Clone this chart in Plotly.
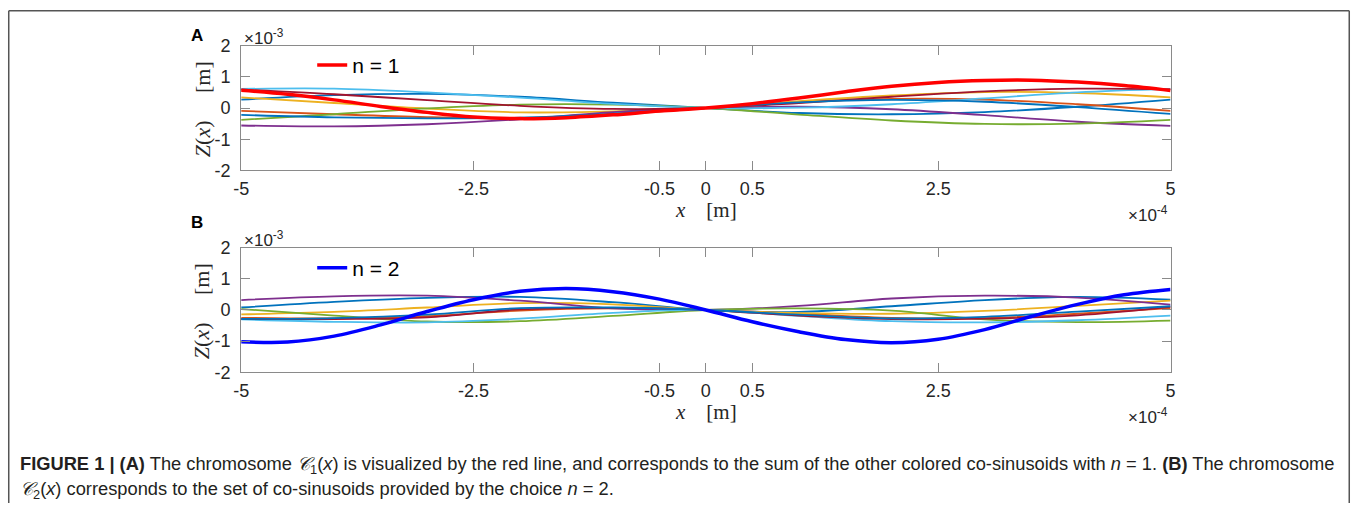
import plotly.graph_objects as go

# ---------------- data (x in units of 1e-4 m, Z in units of 1e-3 m) ----------------
x_thin = [-5, -4, -3, -2, -1, 0, 1, 2, 3, 4, 5]
x_fine = [-5, -4.5, -4, -3.5, -3, -2.5, -2, -1.5, -1, -0.5, 0,
          0.5, 1, 1.5, 2, 2.5, 3, 3.5, 4, 4.5, 5]

# Panel A (n = 1): thin co-sinusoids
a_blue1   = [0.27, 0.41, 0.45, 0.36, 0.17, 0.0, -0.16, -0.20, -0.13, 0.04, 0.27]
a_orange  = [-0.09, -0.20, -0.29, -0.32, -0.22, 0.0, 0.18, 0.29, 0.27, 0.12, -0.09]
a_yellow  = [0.34, 0.16, -0.02, -0.14, -0.11, 0.0, 0.22, 0.40, 0.51, 0.48, 0.34]
a_purple  = [-0.56, -0.59, -0.52, -0.36, -0.13, 0.0, 0.04, -0.04, -0.23, -0.44, -0.57]
a_green   = [-0.38, -0.20, -0.01, 0.11, 0.11, 0.0, -0.21, -0.40, -0.51, -0.50, -0.38]
a_cyan    = [0.61, 0.62, 0.50, 0.33, 0.13, 0.0, 0.01, 0.12, 0.31, 0.50, 0.61]
a_darkred = [0.59, 0.44, 0.25, 0.07, -0.03, 0.0, 0.16, 0.36, 0.53, 0.62, 0.60]
a_blue2   = [-0.22, -0.30, -0.33, -0.31, -0.18, 0.0, 0.18, 0.26, 0.20, 0.03, -0.19]
# Panel A chromosome (thick red)
a_chrom = [0.57, 0.44, 0.26, 0.05, -0.14, -0.29, -0.34, -0.31, -0.22, -0.10, 0.0,
           0.14, 0.32, 0.52, 0.70, 0.82, 0.88, 0.89, 0.83, 0.72, 0.56]

# Panel B (n = 2): thin co-sinusoids
b_blue1   = [0.08, 0.26, 0.39, 0.42, 0.25, 0.0, -0.06, 0.12, 0.32, 0.42, 0.33]
b_orange  = [-0.25, -0.27, -0.20, -0.02, 0.05, 0.0, -0.12, -0.25, -0.26, -0.12, 0.06]
b_yellow  = [-0.14, -0.06, 0.08, 0.22, 0.18, 0.0, -0.10, -0.12, -0.03, 0.13, 0.30]
b_purple  = [0.32, 0.44, 0.46, 0.30, 0.05, 0.0, 0.13, 0.37, 0.46, 0.40, 0.17]
b_green   = [0.03, -0.18, -0.37, -0.36, -0.19, 0.0, 0.05, -0.02, -0.30, -0.39, -0.34]
b_cyan    = [-0.30, -0.38, -0.40, -0.28, -0.09, 0.0, -0.19, -0.36, -0.40, -0.33, -0.18]
b_darkred = [-0.29, -0.29, -0.24, 0.02, 0.07, 0.0, -0.18, -0.29, -0.28, -0.17, 0.10]
b_blue2   = [-0.29, -0.26, -0.15, 0.06, 0.08, 0.0, -0.15, -0.27, -0.22, -0.05, 0.12]
# Panel B chromosome (thick blue)
b_chrom = [-1.02, -1.03, -0.84, -0.48, -0.05, 0.33, 0.60, 0.69, 0.59, 0.35, 0.0,
           -0.38, -0.70, -0.95, -1.05, -0.94, -0.63, -0.21, 0.18, 0.49, 0.66]

x_tickvals = [-5, -2.5, -0.5, 0, 0.5, 2.5, 5]
x_ticktext = ["-5", "-2.5", "-0.5", "0", "0.5", "2.5", "5"]
y_tickvals = [-2, -1, 0, 1, 2]
y_ticktext = ["-2", "-1", "0", "1", "2"]

matlab_colors = ["#0072BD", "#D95319", "#EDB120", "#7E2F8E", "#77AC30", "#4DBEEE", "#A2142F", "#0072BD"]
panel_a = [a_blue1, a_orange, a_yellow, a_purple, a_green, a_cyan, a_darkred, a_blue2]
panel_b = [b_blue1, b_orange, b_yellow, b_purple, b_green, b_cyan, b_darkred, b_blue2]

# Page geometry: the browser keeps an 8px body margin and the captured picture is
# slightly rescaled, so target picture positions are converted to figure pixels.
OFF = 8
SX, SY = 0.99, 0.962
W, H = 1355, 513


def px(x):
    return (x / SX - OFF) / W


def py(y):
    return 1 - (y / SY - OFF) / H


fig = go.Figure()

for ys, c in zip(panel_a, matlab_colors):
    fig.add_trace(go.Scatter(x=x_thin, y=ys, mode="lines", line=dict(color=c, width=1.8, shape="spline"),
                             showlegend=False, xaxis="x", yaxis="y", hoverinfo="skip"))
fig.add_trace(go.Scatter(x=x_fine, y=a_chrom, mode="lines", name="n = 1",
                         line=dict(color="#FF0000", width=3.5, shape="spline"),
                         showlegend=True, legend="legend", xaxis="x", yaxis="y"))

for ys, c in zip(panel_b, matlab_colors):
    fig.add_trace(go.Scatter(x=x_thin, y=ys, mode="lines", line=dict(color=c, width=1.8, shape="spline"),
                             showlegend=False, xaxis="x2", yaxis="y2", hoverinfo="skip"))
fig.add_trace(go.Scatter(x=x_fine, y=b_chrom, mode="lines", name="n = 2",
                         line=dict(color="#0000FF", width=3.5, shape="spline"),
                         showlegend=True, legend="legend2", xaxis="x2", yaxis="y2"))

sans = "Liberation Sans, Arial, sans-serif"
serif = "Liberation Serif, DejaVu Serif, serif"
tickfont = dict(family=sans, size=18, color="#262626")
axis_common = dict(showline=True, linecolor="#8a8a8a", linewidth=1, mirror="ticks",
                   ticks="inside", ticklen=9, tickcolor="#8a8a8a", tickwidth=1,
                   showgrid=False, zeroline=False, tickfont=tickfont)

xdom = [px(241), px(1170)]
legfont = dict(family=sans, size=21, color="#000")
fig.update_layout(
    width=W, height=H, margin=dict(l=0, r=0, t=0, b=0),
    paper_bgcolor="white", plot_bgcolor="white",
    xaxis=dict(domain=xdom, anchor="y", range=[-5, 5], tickvals=x_tickvals, ticktext=x_ticktext,
               ticklabelstandoff=2, **axis_common),
    yaxis=dict(domain=[py(168.3), py(43.3)], anchor="x", range=[-2, 2], tickvals=y_tickvals,
               ticktext=y_ticktext, ticklabelstandoff=6, **axis_common),
    xaxis2=dict(domain=xdom, anchor="y2", range=[-5, 5], tickvals=x_tickvals, ticktext=x_ticktext,
                ticklabelstandoff=2, **axis_common),
    yaxis2=dict(domain=[py(370.3), py(245.7)], anchor="x2", range=[-2, 2], tickvals=y_tickvals,
                ticktext=y_ticktext, ticklabelstandoff=6, **axis_common),
    legend=dict(x=px(312), y=py(63), xanchor="left", yanchor="middle", bgcolor="rgba(0,0,0,0)",
                borderwidth=0, itemwidth=30, font=legfont),
    legend2=dict(x=px(312), y=py(266), xanchor="left", yanchor="middle", bgcolor="rgba(0,0,0,0)",
                 borderwidth=0, itemwidth=30, font=legfont),
    showlegend=True,
)

NB = "\u00a0"
ann = []
panels = [(43.3, 168.3, "A", 33), (245.7, 370.3, "B", 220)]
for (ytop, ybot, lbl, yletter) in panels:
    ymid = (ytop + ybot) / 2
    ann.append(dict(x=px(197), y=py(yletter), xref="paper", yref="paper", text="<b>%s</b>" % lbl,
                    showarrow=False, font=dict(family=sans, size=17, color="#000"),
                    xanchor="center", yanchor="middle"))
    ann.append(dict(x=px(242), y=py(ytop - 9), xref="paper", yref="paper", text="×10<sup>-3</sup>",
                    showarrow=False, font=dict(family=sans, size=17, color="#262626"),
                    xanchor="left", yanchor="middle"))
    ann.append(dict(x=px(1169), y=py(ybot + 44), xref="paper", yref="paper", text="×10<sup>-4</sup>",
                    showarrow=False, font=dict(family=sans, size=17, color="#262626"),
                    xanchor="right", yanchor="middle"))
    ann.append(dict(x=px(706), y=py(ybot + 40), xref="paper", yref="paper",
                    text="<i>x</i>" + NB * 4 + "[m]",
                    showarrow=False, font=dict(family=serif, size=21, color="#262626"),
                    xanchor="center", yanchor="middle"))
    ann.append(dict(x=px(202), y=py(ymid + 1), xref="paper", yref="paper",
                    text="<i>Z</i>(<i>x</i>)" + NB * 5 + "[m]",
                    textangle=-90, showarrow=False, font=dict(family=serif, size=22, color="#262626"),
                    xanchor="center", yanchor="middle"))

cap1 = ("<b>FIGURE 1 | (A)</b> The chromosome <i>𝒞</i><sub>1</sub>(<i>x</i>) is visualized by the red line, and corresponds "
        "to the sum of the other colored co-sinusoids with <i>n</i> = 1. <b>(B)</b> The chromosome")
cap2 = "<i>𝒞</i><sub>2</sub>(<i>x</i>) corresponds to the set of co-sinusoids provided by the choice <i>n</i> = 2."
capfont = dict(family=sans, size=18.3, color="#231F20")
ann.append(dict(x=px(18), y=py(463), xref="paper", yref="paper", text=cap1, showarrow=False,
                font=capfont, xanchor="left", yanchor="middle"))
ann.append(dict(x=px(18), y=py(488), xref="paper", yref="paper", text=cap2, showarrow=False,
                font=capfont, xanchor="left", yanchor="middle"))
fig.update_layout(annotations=ann)

# outer frame of the figure: top, left and right edges (the bottom edge lies below the picture)
frame = dict(color="#555555", width=1.5)
xl, xr, yt = 0.75 / W, 1 - 0.75 / W, 1 - 0.75 / H
fig.add_shape(type="line", xref="paper", yref="paper", x0=xl, x1=xr, y0=yt, y1=yt, line=frame, layer="below")
fig.add_shape(type="line", xref="paper", yref="paper", x0=xl, x1=xl, y0=0, y1=yt, line=frame, layer="below")
fig.add_shape(type="line", xref="paper", yref="paper", x0=xr, x1=xr, y0=0, y1=yt, line=frame, layer="below")

fig.write_html("out.html")
